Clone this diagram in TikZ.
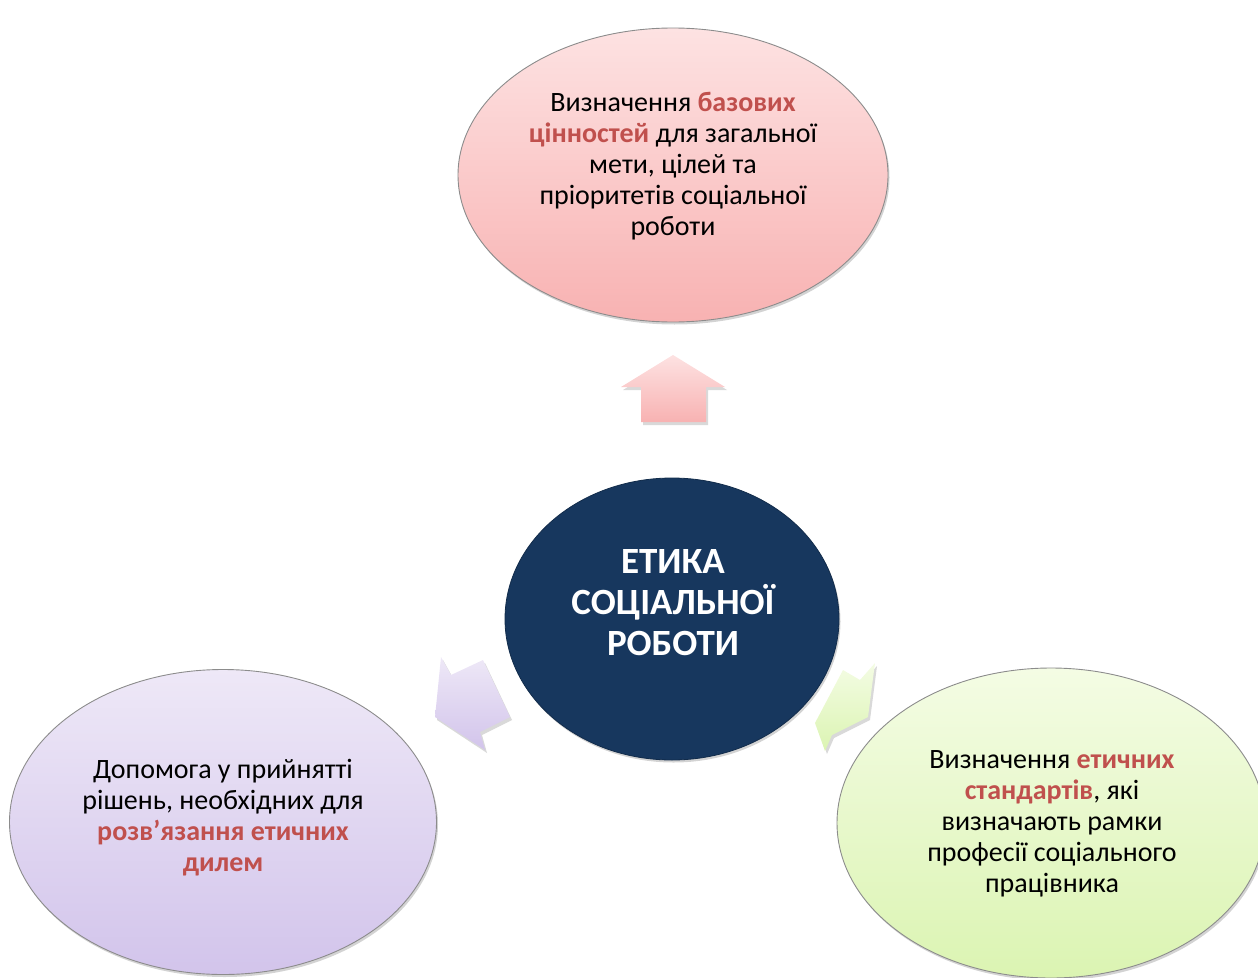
\documentclass[tikz,border=0pt]{standalone}
\usepackage{fontspec}
\setmainfont{Carlito}
\usetikzlibrary{shapes.geometric,shadows}
\definecolor{navy}{HTML}{17375E}
\definecolor{hl}{HTML}{C0504D}
\definecolor{edgegray}{HTML}{8C8C8C}
\definecolor{pinkT}{HTML}{FDE2E2}
\definecolor{pinkB}{HTML}{F8B2B2}
\definecolor{lavT}{HTML}{EEE8F7}
\definecolor{lavB}{HTML}{D2C4EB}
\definecolor{grnT}{HTML}{F4FCE4}
\definecolor{grnB}{HTML}{DBF4B2}
\tikzset{
  bubble/.style={ellipse, draw=edgegray, line width=0.9pt, inner sep=0pt,
    minimum width=428pt, minimum height=300pt,
    drop shadow={opacity=0.35, shadow xshift=1.5pt, shadow yshift=-2.5pt}},
  txt/.style={align=center, font=\fontsize{28}{31}\selectfont, text=black},
  blockarrow/.style={draw=none,
    drop shadow={opacity=0.3, shadow xshift=2pt, shadow yshift=-3pt}},
}
\newcommand{\hlb}[1]{\textcolor{hl}{\textbf{#1}}}
\begin{document}
\begin{tikzpicture}[x=1pt,y=-1pt]
\useasboundingbox (0,0) rectangle (1258,977);

% arrows
\path[blockarrow, top color=pinkT, bottom color=pinkB]
  (673,355) -- (725,387) -- (706,387) -- (706,422) -- (641,422) -- (641,387) -- (621,387) -- cycle;
\path[blockarrow, top color=lavT, bottom color=lavB]
  (441,657) -- (451,675) -- (483,660) -- (510,717) -- (480,732) -- (485,750) -- (435,717) -- cycle;
\path[blockarrow, top color=grnT, bottom color=grnB]
  (875,663) -- (868,717) -- (832,735) -- (825,751) -- (815,723) -- (843,670) -- (860,680) -- cycle;

% center
\node[ellipse, fill=navy, draw=navy!80!black, line width=0.8pt, inner sep=0pt,
      minimum width=334pt, minimum height=282pt,
      drop shadow={opacity=0.35, shadow xshift=1.5pt, shadow yshift=-2.5pt}] (center) at (672,619) {};
\node[align=center, text=white, font=\fontsize{37}{41}\selectfont\bfseries] (centerT) at (673,603)
  {ЕТИКА\\СОЦІАЛЬНОЇ\\РОБОТИ};

% top
\node[bubble, top color=pinkT, bottom color=pinkB, minimum width=430pt, minimum height=294pt] (top) at (673,175) {};
\node[txt] (topT) at (673,166)
  {Визначення \hlb{базових}\\\hlb{цінностей} для загальної\\мети, цілей та\\пріоритетів соціальної\\роботи};

% left
\node[bubble, top color=lavT, bottom color=lavB, minimum width=427pt, minimum height=305pt] (left) at (223,822) {};
\node[txt] (leftT) at (223,818)
  {Допомога у прийнятті\\рішень, необхідних для\\\hlb{розв’язання етичних}\\\hlb{дилем}};

% right
\node[bubble, top color=grnT, bottom color=grnB, minimum width=428pt, minimum height=310pt] (right) at (1051,823) {};
\node[txt] (rightT) at (1052,824)
  {Визначення \hlb{етичних}\\\hlb{стандартів}, які\\визначають рамки\\професії соціального\\працівника};
\end{tikzpicture}
\end{document}
